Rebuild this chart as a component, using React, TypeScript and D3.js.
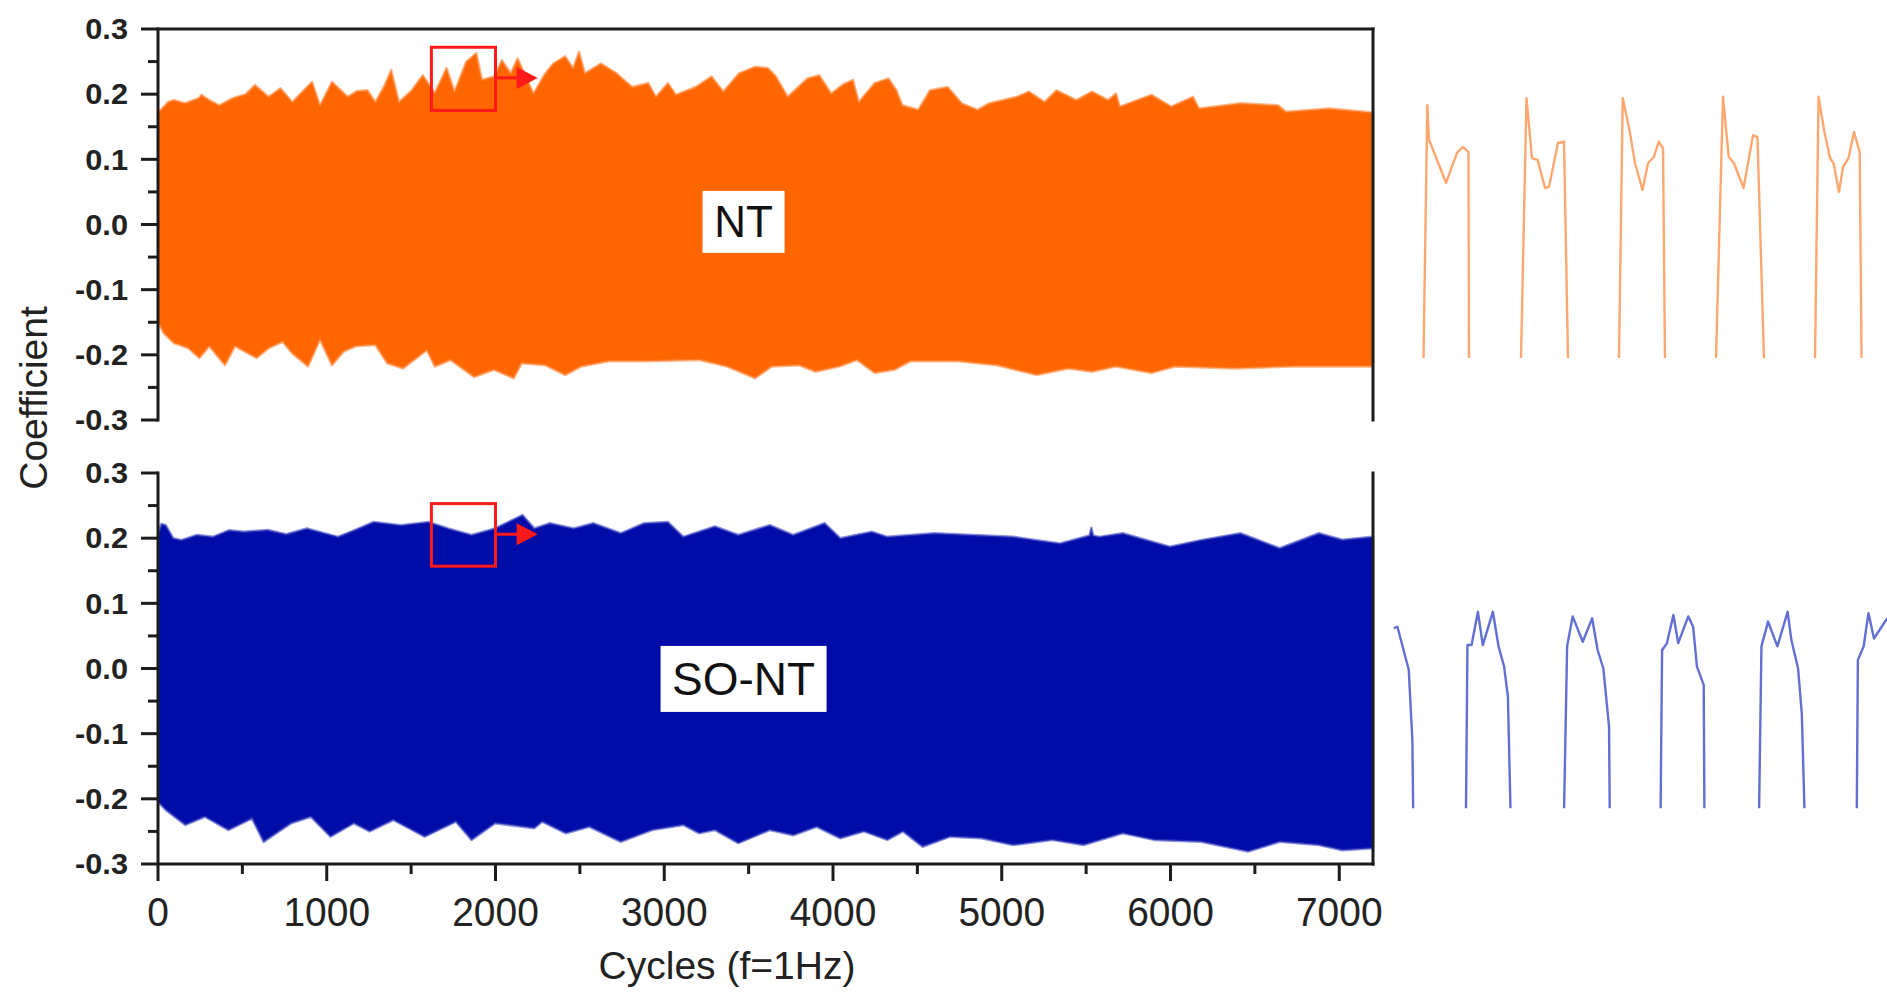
import React from "react";
import * as d3 from "d3";

// ---------------- data ----------------
const xTickValues = [0, 1000, 2000, 3000, 4000, 5000, 6000, 7000];
const xMinorTicks = [500, 1500, 2500, 3500, 4500, 5500, 6500];
const yTickValues = [-0.3, -0.2, -0.1, 0.0, 0.1, 0.2, 0.3];
const yMinorTicks = [-0.25, -0.15, -0.05, 0.05, 0.15, 0.25];
const xDomain: [number, number] = [0, 7200];
const yDomain: [number, number] = [-0.3, 0.3];

// NT envelope (cycles, coefficient)
const ntUpper: [number, number][] = [
  [0, 0.171], [16, 0.176], [60, 0.188], [93, 0.191], [160, 0.186], [243, 0.194], [257, 0.199], [310, 0.19], [363, 0.183], [444, 0.194],
  [520, 0.2], [574, 0.214], [655, 0.196], [726, 0.209], [796, 0.188], [860, 0.205], [913, 0.219], [960, 0.183], [1031, 0.219],
  [1124, 0.196], [1180, 0.205], [1241, 0.206], [1288, 0.188], [1340, 0.212], [1382, 0.237], [1428, 0.188], [1500, 0.205], [1569, 0.229],
  [1640, 0.202], [1710, 0.24], [1757, 0.204], [1827, 0.25], [1886, 0.263], [1920, 0.222], [1991, 0.227], [2038, 0.252],
  [2090, 0.232], [2131, 0.255], [2225, 0.201], [2290, 0.23], [2342, 0.247], [2413, 0.258], [2460, 0.24], [2495, 0.265], [2530, 0.232],
  [2624, 0.247], [2718, 0.232], [2760, 0.222], [2811, 0.211], [2905, 0.217], [2951, 0.196], [3022, 0.217], [3069, 0.199],
  [3186, 0.211], [3280, 0.227], [3350, 0.204], [3443, 0.232], [3538, 0.242], [3614, 0.24], [3660, 0.228], [3732, 0.196],
  [3848, 0.224], [3919, 0.229], [3989, 0.201], [4060, 0.215], [4118, 0.222], [4153, 0.188], [4247, 0.217], [4329, 0.224],
  [4376, 0.206], [4411, 0.183], [4505, 0.176], [4575, 0.206], [4680, 0.211], [4763, 0.186], [4856, 0.176], [4926, 0.186],
  [5090, 0.196], [5161, 0.204], [5254, 0.188], [5325, 0.206], [5442, 0.191], [5535, 0.204], [5630, 0.191], [5677, 0.201],
  [5700, 0.181], [5887, 0.199], [6004, 0.181], [6133, 0.196], [6169, 0.178], [6414, 0.186], [6637, 0.183], [6685, 0.173],
  [6940, 0.178], [7153, 0.173], [7200, 0.172],
];
const ntLower: [number, number][] = [
  [0, -0.15], [34, -0.167], [93, -0.182], [180, -0.19], [245, -0.205], [304, -0.187], [397, -0.216], [456, -0.187], [585, -0.205],
  [655, -0.19], [738, -0.18], [796, -0.198], [889, -0.218], [960, -0.177], [1031, -0.216], [1100, -0.195], [1171, -0.187],
  [1288, -0.185], [1358, -0.213], [1452, -0.221], [1593, -0.193], [1640, -0.218], [1733, -0.208], [1873, -0.234],
  [1991, -0.223], [2108, -0.236], [2155, -0.213], [2296, -0.216], [2413, -0.231], [2507, -0.218], [2671, -0.21],
  [2881, -0.21], [3209, -0.208], [3372, -0.218], [3538, -0.236], [3638, -0.218], [3801, -0.216], [3896, -0.226],
  [4036, -0.218], [4142, -0.208], [4247, -0.228], [4364, -0.223], [4458, -0.21], [4739, -0.21], [4973, -0.216],
  [5208, -0.231], [5395, -0.221], [5535, -0.226], [5677, -0.218], [5887, -0.228], [6027, -0.218], [6379, -0.221],
  [6731, -0.218], [7153, -0.218], [7200, -0.218],
];

// SO-NT envelope
const soUpper: [number, number][] = [
  [0, 0.205], [20, 0.222], [46, 0.22], [90, 0.2], [139, 0.197], [230, 0.205], [325, 0.202], [420, 0.212], [510, 0.21], [650, 0.2125],
  [760, 0.206], [882, 0.215], [1067, 0.202], [1180, 0.214], [1278, 0.225], [1440, 0.22], [1603, 0.225], [1719, 0.215], [1858, 0.205],
  [1997, 0.215], [2160, 0.2355], [2230, 0.215], [2323, 0.223], [2463, 0.215], [2579, 0.223], [2742, 0.2075],
  [2881, 0.223], [3021, 0.225], [3113, 0.202], [3300, 0.218], [3439, 0.205], [3625, 0.22], [3764, 0.205],
  [3950, 0.223], [4043, 0.2], [4229, 0.21], [4322, 0.202], [4601, 0.2075], [4834, 0.205], [5066, 0.202],
  [5345, 0.192], [5520, 0.204], [5531, 0.216], [5542, 0.204], [5577, 0.202], [5717, 0.2075], [5996, 0.187],
  [6181, 0.197], [6414, 0.2075], [6647, 0.1845], [6879, 0.2075], [7018, 0.1975], [7200, 0.202],
];
const soLower: [number, number][] = [
  [0, -0.205], [46, -0.217], [162, -0.24], [278, -0.2275], [417, -0.248], [557, -0.23], [626, -0.266], [789, -0.2375],
  [906, -0.2275], [1022, -0.258], [1161, -0.2375], [1254, -0.25], [1394, -0.2325], [1580, -0.258], [1765, -0.235],
  [1858, -0.263], [1998, -0.2375], [2230, -0.245], [2277, -0.235], [2417, -0.253], [2556, -0.243], [2742, -0.266],
  [2928, -0.248], [3113, -0.24], [3207, -0.253], [3300, -0.248], [3439, -0.268], [3625, -0.248], [3764, -0.256],
  [3903, -0.243], [4043, -0.2605], [4183, -0.25], [4322, -0.263], [4415, -0.25], [4531, -0.2735], [4694, -0.258],
  [4880, -0.2605], [5066, -0.271], [5298, -0.263], [5484, -0.271], [5717, -0.253], [5903, -0.263], [6181, -0.266],
  [6460, -0.281], [6647, -0.266], [6879, -0.271], [7018, -0.279], [7200, -0.276],
];

// zoomed waveforms (time in cycles, coefficient)
const ntCycles: [number, number][][] = [
  [[0.0, -0.205], [0.039, 0.183], [0.056, 0.13], [0.23, 0.064], [0.342, 0.11], [0.403, 0.119], [0.459, 0.111], [0.464, -0.205]],
  [[0.995, -0.205], [1.051, 0.194], [1.107, 0.102], [1.165, 0.099], [1.24, 0.056], [1.281, 0.058], [1.372, 0.125], [1.434, 0.127], [1.474, -0.205]],
  [[1.995, -0.205], [2.033, 0.194], [2.102, 0.145], [2.158, 0.094], [2.235, 0.053], [2.291, 0.094], [2.352, 0.104], [2.4, 0.127], [2.444, 0.117], [2.464, -0.205]],
  [[2.985, -0.205], [3.056, 0.196], [3.114, 0.104], [3.168, 0.094], [3.266, 0.056], [3.362, 0.137], [3.408, 0.134], [3.474, -0.205]],
  [[3.995, -0.205], [4.031, 0.196], [4.087, 0.145], [4.148, 0.102], [4.184, 0.094], [4.24, 0.05], [4.281, 0.088], [4.337, 0.102], [4.393, 0.142], [4.451, 0.111], [4.47, -0.205]],
];
const soCycles: [number, number][][] = [
  [[-0.74, 0.062], [-0.702, 0.064], [-0.586, -0.002], [-0.549, -0.11], [-0.541, -0.2145]],
  [[0, -0.2145], [0.015, 0.036], [0.057, 0.036], [0.122, 0.087], [0.172, 0.036], [0.275, 0.087], [0.333, 0.034], [0.39, 0.003], [0.429, -0.043], [0.455, -0.2145]],
  [[1.004, -0.2145], [1.035, 0.034], [1.092, 0.08], [1.195, 0.041], [1.291, 0.077], [1.348, 0.028], [1.406, 0.0], [1.464, -0.089], [1.471, -0.2145]],
  [[1.992, -0.2145], [2.007, 0.028], [2.057, 0.039], [2.123, 0.082], [2.172, 0.039], [2.275, 0.08], [2.325, 0.064], [2.364, 0.003], [2.433, -0.025], [2.44, -0.2145]],
  [[3.0, -0.2145], [3.024, 0.034], [3.092, 0.072], [3.187, 0.034], [3.292, 0.087], [3.33, 0.044], [3.399, 0.0], [3.437, -0.069], [3.464, -0.2145]],
  [[4.0, -0.2145], [4.011, 0.013], [4.07, 0.034], [4.119, 0.085], [4.176, 0.046], [4.31, 0.077]],
];

// annotations
const zoomBoxX: [number, number] = [1620, 2000];
const ntZoomBoxY: [number, number] = [0.175, 0.272];
const soZoomBoxY: [number, number] = [0.157, 0.253];
const ntArrowY = 0.225;
const soArrowY = 0.206;
const arrowHeadStart = 2125;
const arrowTip = 2250;
const ntLabel = { text: "NT", x: 3470, y: 0.004 };
const soLabel = { text: "SO-NT", x: 3470, y: -0.016 };

// ---------------- layout ----------------
const W = 1887;
const H = 993;
const PLOT_L = 158;
const PLOT_R = 1373;
const TOP_Y: [number, number] = [420, 29];
const BOT_Y: [number, number] = [864, 473];
const AXIS = "#1c1c1c";
const FONT = "'Liberation Sans', Arial, Helvetica, sans-serif";
const MAJOR = 17;
const MINOR = 10;

const fmtY = (v: number) => d3.format(".1f")(v).replace("\u2212", "-");

export default function App() {
  const x = d3.scaleLinear().domain(xDomain).range([PLOT_L, PLOT_R]);
  const yT = d3.scaleLinear().domain(yDomain).range(TOP_Y);
  const yB = d3.scaleLinear().domain(yDomain).range(BOT_Y);
  const ntX = d3.scaleLinear().domain([0, 1]).range([1423.5, 1521.5]);
  const soX = d3.scaleLinear().domain([0, 1]).range([1466, 1563.7]);

  const band = (up: [number, number][], lo: [number, number][], y: d3.ScaleLinear<number, number>) => {
    const ln = d3.line<[number, number]>().x((d) => x(d[0])).y((d) => y(d[1]));
    return ln([...up, ...lo.slice().reverse()]) + "Z";
  };
  const wave = (xs: d3.ScaleLinear<number, number>, y: d3.ScaleLinear<number, number>) =>
    d3.line<[number, number]>().x((d) => xs(d[0])).y((d) => y(d[1]));

  const yAxis = (y: d3.ScaleLinear<number, number>, key: string) => (
    <g key={key}>
      <line x1={PLOT_L} x2={PLOT_L} y1={y(yDomain[0])} y2={y(yDomain[1])} stroke={AXIS} strokeWidth={3} strokeLinecap="square" />
      {yTickValues.map((v) => (
        <g key={"M" + v}>
          <line x1={PLOT_L - MAJOR} x2={PLOT_L} y1={y(v)} y2={y(v)} stroke={AXIS} strokeWidth={3} />
          <text
            x={0}
            y={0}
            transform={`translate(${PLOT_L - MAJOR - 13},${y(v)}) scale(1.06,1)`}
            textAnchor="end"
            dominantBaseline="central"
            fontFamily={FONT}
            fontWeight="bold"
            fontSize={29}
            fill="#222"
          >
            {fmtY(v)}
          </text>
        </g>
      ))}
      {yMinorTicks.map((v) => (
        <line key={"m" + v} x1={PLOT_L - MINOR} x2={PLOT_L} y1={y(v)} y2={y(v)} stroke={AXIS} strokeWidth={3} />
      ))}
    </g>
  );

  const redBox = (bx: [number, number], by: [number, number], ay: number, y: d3.ScaleLinear<number, number>, key: string) => {
    const headH = 11;
    return (
      <g key={key}>
        <rect
          x={x(bx[0])}
          y={y(by[1])}
          width={x(bx[1]) - x(bx[0])}
          height={y(by[0]) - y(by[1])}
          fill="none"
          stroke="#ff1a1a"
          strokeWidth={3}
        />
        <line x1={x(bx[1])} x2={x(arrowHeadStart) + 2} y1={y(ay)} y2={y(ay)} stroke="#ff1a1a" strokeWidth={3} />
        <path
          d={`M${x(arrowHeadStart)},${y(ay) - headH}L${x(arrowTip)},${y(ay)}L${x(arrowHeadStart)},${y(ay) + headH}Z`}
          fill="#ff1a1a"
        />
      </g>
    );
  };

  const label = (l: { text: string; x: number; y: number }, y: d3.ScaleLinear<number, number>, w: number, h: number, fs: number) => (
    <g>
      <rect x={x(l.x) - w / 2} y={y(l.y) - h / 2} width={w} height={h} fill="#ffffff" />
      <text x={x(l.x)} y={y(l.y)} textAnchor="middle" dominantBaseline="central" fontFamily={FONT} fontSize={fs} fill="#111">
        {l.text}
      </text>
    </g>
  );

  return (
    <svg width={W} height={H} style={{ position: "absolute", left: 0, top: 0, background: "#fff" }}>
      <rect x={0} y={0} width={W} height={H} fill="#fff" />
      {/* bands (soft outer stroke mimics the dense, fuzzy signal edge) */}
      <path d={band(ntUpper, ntLower, yT)} fill="#ff6600" stroke="#ff8a40" strokeOpacity={0.6} strokeWidth={2.5} strokeLinejoin="round" />
      <path d={band(soUpper, soLower, yB)} fill="#000ca8" stroke="#3a45c0" strokeOpacity={0.6} strokeWidth={2.5} strokeLinejoin="round" />
      {/* cover band stroke spill past the left axis */}
      <rect x={PLOT_L - 4} y={0} width={2.5} height={H} fill="#fff" />

      {/* frames */}
      <line x1={PLOT_L} x2={PLOT_R} y1={yT(0.3)} y2={yT(0.3)} stroke={AXIS} strokeWidth={3} strokeLinecap="square" />
      <line x1={PLOT_R} x2={PLOT_R} y1={yT(0.3)} y2={yT(-0.3)} stroke={AXIS} strokeWidth={3} strokeLinecap="square" />
      <line x1={PLOT_R} x2={PLOT_R} y1={yB(0.3)} y2={yB(-0.3)} stroke={AXIS} strokeWidth={3} strokeLinecap="square" />
      <line x1={PLOT_L} x2={PLOT_R} y1={yB(-0.3)} y2={yB(-0.3)} stroke={AXIS} strokeWidth={3} strokeLinecap="square" />
      {yAxis(yT, "yt")}
      {yAxis(yB, "yb")}

      {/* x axis */}
      {xTickValues.map((v) => (
        <g key={"x" + v}>
          <line x1={x(v)} x2={x(v)} y1={yB(-0.3)} y2={yB(-0.3) + MAJOR} stroke={AXIS} strokeWidth={3} />
          <text
            x={0}
            y={0}
            transform={`translate(${x(v)},926) scale(0.95,1)`}
            textAnchor="middle"
            fontFamily={FONT}
            fontSize={41}
            fill="#222"
          >
            {v}
          </text>
        </g>
      ))}
      {xMinorTicks.map((v) => (
        <line key={"xm" + v} x1={x(v)} x2={x(v)} y1={yB(-0.3)} y2={yB(-0.3) + MINOR} stroke={AXIS} strokeWidth={3} />
      ))}

      {/* axis titles */}
      <text x={727} y={979} textAnchor="middle" fontFamily={FONT} fontSize={39} fill="#222">
        Cycles (f=1Hz)
      </text>
      <text transform="translate(47,398) rotate(-90)" textAnchor="middle" fontFamily={FONT} fontSize={39} fill="#222">
        Coefficient
      </text>

      {/* labels */}
      {label(ntLabel, yT, 82, 62, 44)}
      {label(soLabel, yB, 166, 66, 46)}

      {/* zoom boxes */}
      {redBox(zoomBoxX, ntZoomBoxY, ntArrowY, yT, "rt")}
      {redBox(zoomBoxX, soZoomBoxY, soArrowY, yB, "rb")}

      {/* zoomed waveforms */}
      {ntCycles.map((c, i) => (
        <path key={"nc" + i} d={wave(ntX, yT)(c) || ""} fill="none" stroke="#ff8a40" strokeOpacity={0.75} strokeWidth={2.4} strokeLinejoin="round" />
      ))}
      {soCycles.map((c, i) => (
        <path key={"sc" + i} d={wave(soX, yB)(c) || ""} fill="none" stroke="#2e3fc4" strokeOpacity={0.75} strokeWidth={2.4} strokeLinejoin="round" />
      ))}
    </svg>
  );
}
